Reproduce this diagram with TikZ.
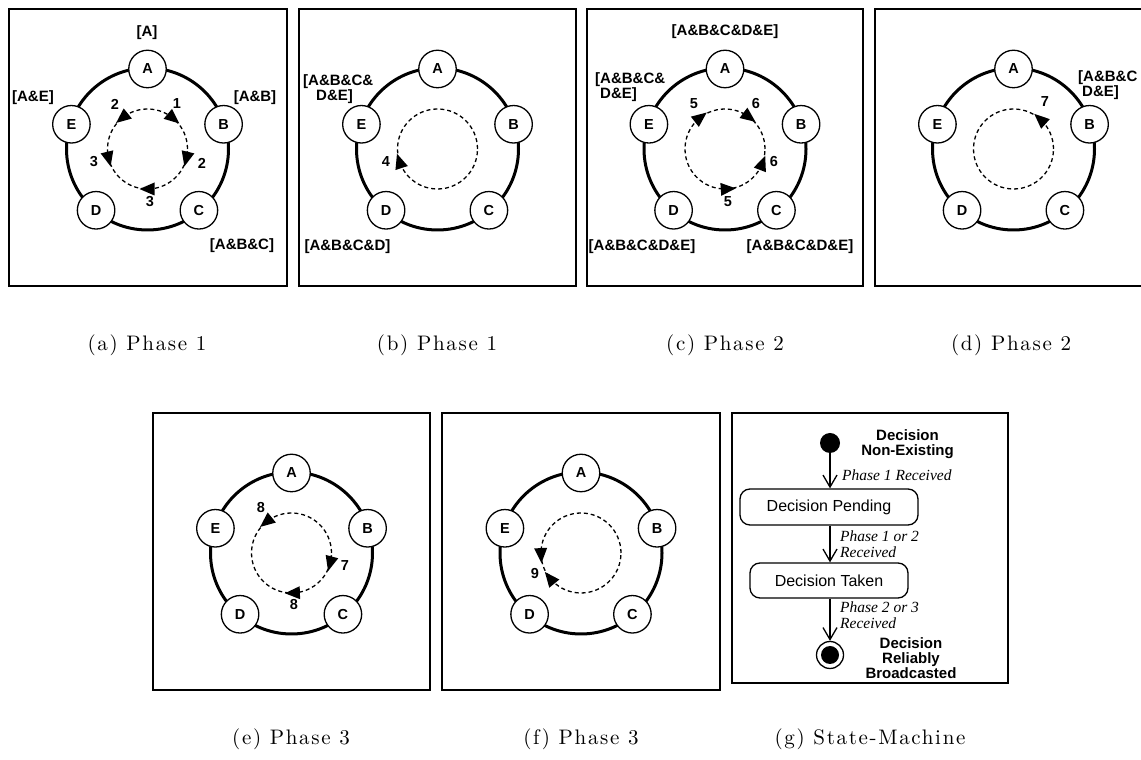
\documentclass[tikz,border=0pt]{standalone}
\usepackage{fontspec}
\newfontfamily\arialf{Liberation Sans}
\newfontfamily\serifit{Liberation Serif}
\newfontfamily\capf[LetterSpace=8]{lmroman10-regular.otf}
\usetikzlibrary{arrows.meta}
\tikzset{
 panel/.style={draw=black, line width=1.2pt},
 ring/.style={line width=3pt},
 nd/.style={circle, draw, fill=white, line width=1.3pt, minimum size=37.5pt, inner sep=0pt, font=\arialf\bfseries\fontsize{14.5}{16}\selectfont},
 dcirc/.style={line width=1.3pt, dash pattern=on 4pt off 3pt},
 num/.style={font=\arialf\bfseries\fontsize{14.5}{15}\selectfont, inner sep=0pt},
 lbl/.style={font=\arialf\bfseries\fontsize{15}{13.5}\selectfont, inner sep=0pt},
 lbltwo/.style={lbl, align=left, anchor=north west},
 captxt/.style={font=\capf\fontsize{21}{23}\selectfont, inner sep=0pt, anchor=base},
 state/.style={draw, rounded corners=10pt, line width=1.3pt, font=\arialf\fontsize{16}{18}\selectfont, inner sep=0pt},
 bstate/.style={font=\arialf\bfseries\fontsize{15}{15}\selectfont, inner sep=0pt, align=center},
 trans/.style={line width=1.3pt, -{Straight Barb[length=12pt,width=14pt]}},
 tlbl/.style={font=\serifit\itshape\fontsize{15.5}{15.5}\selectfont, inner sep=0pt, align=left, anchor=west},
}
\newcommand\ringpanel[3]{%
 \begin{scope}[shift={(#2,#3)}]
 \draw[ring] (0,0) circle[radius=81pt];
 \draw[dcirc] (0,0) circle[radius=40pt];
 \node[nd] (#1A) at (90:80pt) {A};
 \node[nd] (#1B) at (18:80pt) {B};
 \node[nd] (#1C) at (-50:80pt) {C};
 \node[nd] (#1D) at (-130:80pt) {D};
 \node[nd] (#1E) at (162:80pt) {E};
 \end{scope}}
\newcommand\ahead[4]{%
 \fill[shift={(#1,#2)}, rotate=#3, yscale=#4] (40pt,8pt) -- (46.5pt,-7pt) -- (33.5pt,-7pt) -- cycle;}
\begin{document}
\begin{tikzpicture}[x=1pt,y=1pt]
\useasboundingbox (0,0) rectangle (1141,760);
\clip (0,0) rectangle (1141,760);
\fill[white] (0,0) rectangle (1141,760);
% panel boxes
\draw[panel] (9,474) rectangle (287,751);
\draw[panel] (299,474) rectangle (576,751);
\draw[panel] (587,474) rectangle (863,751);
\draw[panel] (875,474) rectangle (1153,751);
\draw[panel] (153,70) rectangle (430,347);
\draw[panel] (442,70) rectangle (720,347);
\draw[panel] (732,77) rectangle (1008,347);
% (a)
\ringpanel{a}{147.5}{611}
\ahead{147.5}{611}{50}{-1}
\ahead{147.5}{611}{-14}{-1}
\ahead{147.5}{611}{-90}{-1}
\ahead{147.5}{611}{129}{1}
\ahead{147.5}{611}{194}{1}
\node[num] (a1) at (177,656) {1};
\node[num] (a2r) at (202,597) {2};
\node[num] (a3b) at (150,558) {3};
\node[num] (a2l) at (115,656) {2};
\node[num] (a3l) at (94,598) {3};
\node[lbl] (aLA) at (147,727) {[A]};
\node[lbl] (aLB) at (255,662) {[A\&B]};
\node[lbl] (aLE) at (33,662) {[A\&E]};
\node[lbl] (aLC) at (242,514) {[A\&B\&C]};
% (b)
\ringpanel{b}{437.5}{611}
\ahead{437.5}{611}{198}{-1}
\node[num] (b4) at (386,598) {4};
\node[lbltwo] (bLE) at (303,686) {[A\&B\&C\&\\\hspace*{13pt}D\&E]};
\node[lbl] (bLD) at (347.5,513) {[A\&B\&C\&D]};
% (c)
\ringpanel{c}{725}{611}
\ahead{725}{611}{128}{-1}
\ahead{725}{611}{53}{-1}
\ahead{725}{611}{-21}{1}
\ahead{725}{611}{-86}{1}
\node[num] (c5a) at (694,656) {5};
\node[num] (c6a) at (756,656) {6};
\node[num] (c6b) at (774,598) {6};
\node[num] (c5b) at (728,558) {5};
\node[lbl] (cLA) at (725,728) {[A\&B\&C\&D\&E]};
\node[lbltwo] (cLE) at (595,688) {[A\&B\&C\&\\\hspace*{5pt}D\&E]};
\node[lbl] (cLD) at (642,513) {[A\&B\&C\&D\&E]};
\node[lbl] (cLC) at (800,513) {[A\&B\&C\&D\&E]};
% (d)
\ringpanel{d}{1013.5}{611}
\ahead{1013.5}{611}{48}{1}
\node[num] (d7) at (1045,658) {7};
\node[lbltwo] (dLB) at (1078,690) {[A\&B\&C\\\hspace*{4pt}D\&E]};
% (e)
\ringpanel{e}{291.5}{207}
\ahead{291.5}{207}{129}{1}
\ahead{291.5}{207}{-15}{-1}
\ahead{291.5}{207}{-88}{-1}
\node[num] (e8a) at (261,252) {8};
\node[num] (e7) at (345,194) {7};
\node[num] (e8b) at (294,155) {8};
% (f)
\ringpanel{f}{581}{207}
\ahead{581}{207}{183}{1}
\ahead{581}{207}{219}{-1}
\node[num] (f9) at (535,186) {9};
% (g) state machine
\node[circle, fill=black, minimum size=20pt, inner sep=0pt] (init) at (830,317) {};
\node[bstate] (tinit) at (907.5,316) {Decision\\Non-Existing};
\node[state, minimum width=178pt, minimum height=36pt] (pend) at (829,253) {Decision Pending};
\node[state, minimum width=158pt, minimum height=35pt] (taken) at (829,179.5) {Decision Taken};
\node[circle, draw, line width=1.3pt, minimum size=27pt, inner sep=0pt] (fin) at (830,105) {};
\node[circle, fill=black, minimum size=18pt, inner sep=0pt] (findot) at (fin.center) {};
\node[bstate] (tfin) at (911,102) {Decision\\Reliably\\Broadcasted};
\draw[trans] (init.south) -- (init.south |- pend.north);
\draw[trans] (pend.south -| init) -- (taken.north -| init);
\draw[trans] (taken.south -| init) -- (fin.north);
\node[tlbl] (l1) at (842,285) {Phase 1 Received};
\node[tlbl] (l2) at (840,216) {Phase 1 or 2\\Received};
\node[tlbl] (l3) at (840,145) {Phase 2 or 3\\Received};
% captions
\node[captxt] (capa) at (147,409) {(a) Phase 1};
\node[captxt] (capb) at (437,409) {(b) Phase 1};
\node[captxt] (capc) at (725,409) {(c) Phase 2};
\node[captxt] (capd) at (1011,409) {(d) Phase 2};
\node[captxt] (cape) at (291,15) {(e) Phase 3};
\node[captxt] (capf) at (581,15) {(f) Phase 3};
\node[captxt] (capg) at (870,15) {(g) State-Machine};
\end{tikzpicture}
\end{document}
